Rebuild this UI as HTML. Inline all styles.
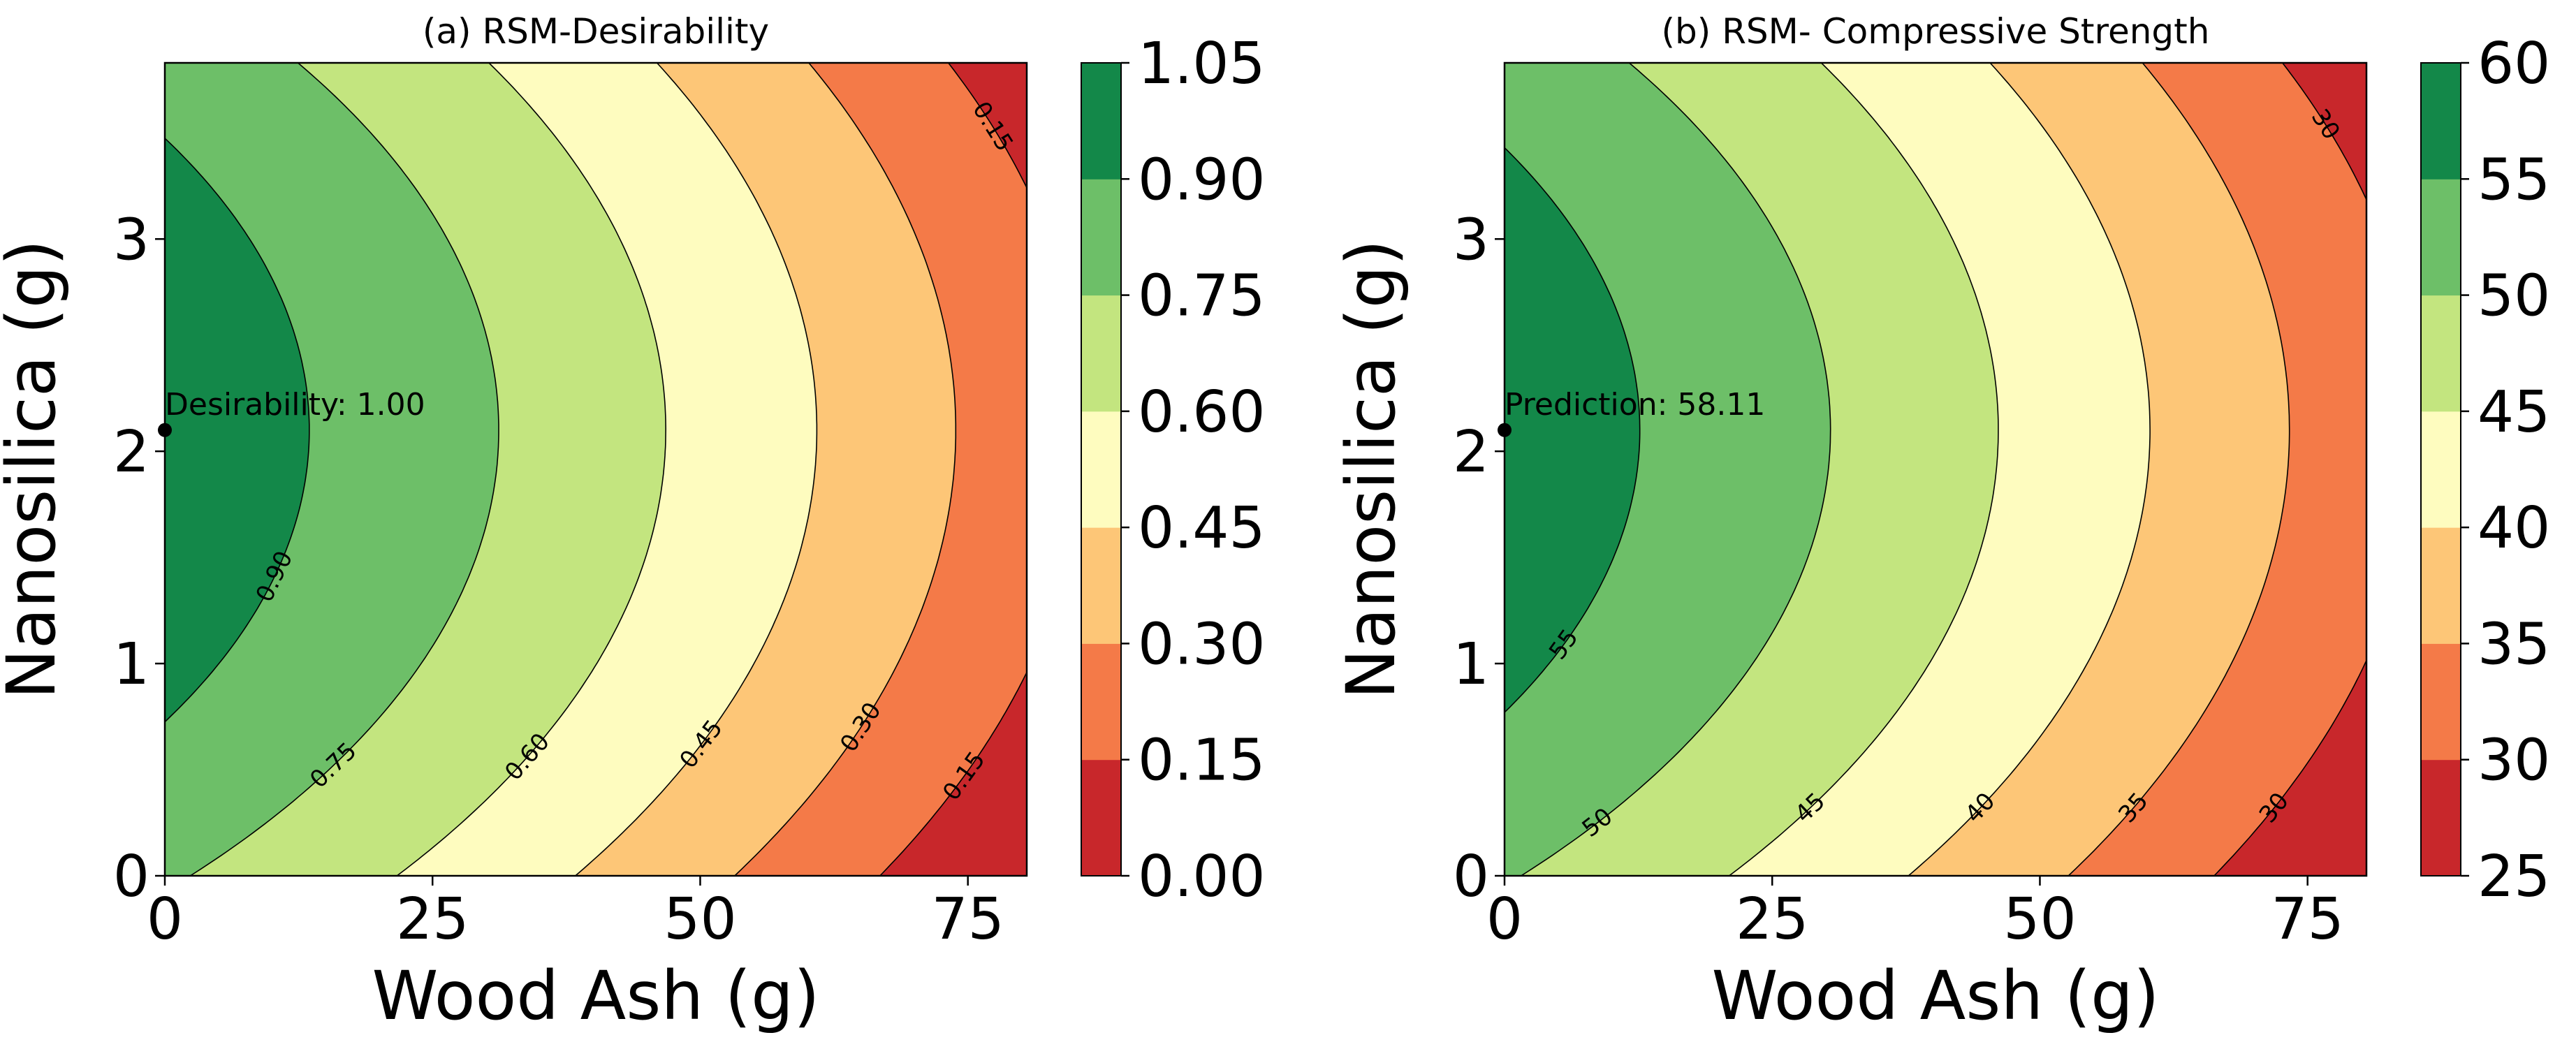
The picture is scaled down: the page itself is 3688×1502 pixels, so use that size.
<!DOCTYPE html>
<html><head><meta charset="utf-8"><style>
html,body{margin:0;padding:0;background:#fff}
svg{display:block;font-family:"DejaVu Sans","Liberation Sans",sans-serif}
</style></head><body>
<svg id="fig" width="3688" height="1502" viewBox="0 0 3688 1502" xmlns="http://www.w3.org/2000/svg"></svg>
<script>
// ---- data ----
const xTicks = [0, 25, 50, 75];
const yTicks = [0, 1, 2, 3];
const bandColors = ["#c8272b", "#f47a48", "#fdc677", "#fefcbf", "#c3e57f", "#6dbf68", "#138849"];
const desLevels = [0.00, 0.15, 0.30, 0.45, 0.60, 0.75, 0.90, 1.05];
const desTickLabels = ["0.00","0.15","0.30","0.45","0.60","0.75","0.90","1.05"];
const desModel = [1.0, 0.00695, 0.0000342, 0.0529, 2.1]; // peak, linear x, quad x, quad y, y-center
const desLabelYs = [[0.15,0.47],[0.15,3.53],[0.30,0.70],[0.45,0.62],[0.60,0.56],[0.75,0.52],[0.90,1.41]];
const strLevels = [25, 30, 35, 40, 45, 50, 55, 60];
const strTickLabels = ["25","30","35","40","45","50","55","60"];
const strModel = [58.11, 0.2317, 0.00114, 1.757, 2.1];
const strLabelYs = [[30,0.32],[30,3.54],[35,0.32],[40,0.32],[45,0.32],[50,0.25],[55,1.09]];
const optPoint = [0, 2.1];

const NS = "http://www.w3.org/2000/svg";
const svg = document.getElementById("fig");
function mk(tag, attrs, parent){const e=document.createElementNS(NS,tag);for(const k in attrs)e.setAttribute(k,attrs[k]);(parent||svg).appendChild(e);return e;}

function panel(opts){
  const {L,R,T,B,xmax,ymax,model,levels,tickLabels,labelYs,title,annot,cbL,fmt,id}=opts;
  const sx=v=>L+(v/xmax)*(R-L), sy=v=>B-(v/ymax)*(B-T);
  const [p0,b,a,c,yc]=model;
  const xOf=(lev,y)=>{const Rr=p0-lev-c*(y-yc)*(y-yc);const disc=b*b+4*a*Rr;if(disc<0)return -10;return (-b+Math.sqrt(disc))/(2*a);};
  const g=mk("g",{});
  
  
  const cp=mk("clipPath",{id:id+"clip"},g);mk("rect",{x:L,y:T,width:R-L,height:B-T},cp);
  const area=mk("g",{"clip-path":"url(#"+id+"clip)"},g);
  const base=mk("rect",{x:L,y:T,width:R-L,height:B-T,fill:bandColors[0]},area);
  
  
  const N=200;
  for(let i=1;i<levels.length-1;i++){
    const lev=levels[i];let pts=[];
    for(let k=0;k<=N;k++){const y=-0.2+(ymax+0.4)*k/N;const x=Math.max(xOf(lev,y),-5);pts.push(sx(x).toFixed(1)+","+sy(y).toFixed(1));}
    const poly=mk("polygon",{points:sx(-5)+","+sy(-0.2)+" "+pts.join(" ")+" "+sx(-5)+","+sy(ymax+0.2),fill:bandColors[i]},area);
    
    
    const pl=mk("polyline",{points:pts.join(" "),fill:"none",stroke:"#000","stroke-width":1.6},area);
    
    
  }
  labelYs.forEach(([lev,y])=>{
    const x=xOf(lev,y),x2=xOf(lev,y+0.02);
    const ang=Math.atan2(sy(y+0.02)-sy(y),sx(x2)-sx(x))*180/Math.PI;
    let rot=ang; if(rot>90)rot-=180; if(rot<-90)rot+=180;
    const t=mk("text",{x:sx(x),y:sy(y),"font-size":34,"text-anchor":"middle","dominant-baseline":"central",transform:`rotate(${rot.toFixed(1)} ${sx(x).toFixed(1)} ${sy(y).toFixed(1)})`},area);
    t.textContent=fmt(lev);
    
    
  });
  const fr=mk("rect",{x:L,y:T,width:R-L,height:B-T,fill:"none",stroke:"#000","stroke-width":2.5},g);
  
  
  const dot=mk("circle",{cx:sx(optPoint[0]),cy:sy(optPoint[1]),r:10,fill:"#000"},g);
  
  
  const an=mk("text",{x:sx(optPoint[0]),y:sy(optPoint[1])-22,"font-size":44},g);an.textContent=annot;
  
  
  xTicks.forEach(v=>{const X=sx(v);mk("line",{x1:X,x2:X,y1:B,y2:B+14,stroke:"#000","stroke-width":2.5},g);
    const t=mk("text",{x:X,y:B+90,"font-size":82,"text-anchor":"middle"},g);t.textContent=v;
    
    });
  yTicks.forEach(v=>{const Y=sy(v);mk("line",{x1:L-14,x2:L,y1:Y,y2:Y,stroke:"#000","stroke-width":2.5},g);
    const t=mk("text",{x:L-22,y:Y+29,"font-size":82,"text-anchor":"end"},g);t.textContent=v;
    
    });
  const xl=mk("text",{x:(L+R)/2,y:1459,"font-size":96,"text-anchor":"middle"},g);xl.textContent="Wood Ash (g)";
  
  
  const ylx=L-158;
  const yl=mk("text",{x:ylx,y:(T+B)/2,"font-size":96,"text-anchor":"middle",transform:`rotate(-90 ${ylx} ${(T+B)/2})`},g);yl.textContent="Nanosilica (g)";
  
  
  const tt=mk("text",{x:(L+R)/2,y:62,"font-size":50,"text-anchor":"middle"},g);tt.textContent=title;
  
  
  const cbW=57, n=levels.length-1, cy=i=>B-(i/n)*(B-T);
  for(let i=0;i<n;i++){const r=mk("rect",{x:cbL,y:cy(i+1),width:cbW,height:cy(i)-cy(i+1)+0.5,fill:bandColors[i]},g);
    
    }
  mk("rect",{x:cbL,y:T,width:cbW,height:B-T,fill:"none",stroke:"#000","stroke-width":2},g);
  tickLabels.forEach((lab,i)=>{const Y=cy(i);mk("line",{x1:cbL+cbW,x2:cbL+cbW+12,y1:Y,y2:Y,stroke:"#000","stroke-width":2.5},g);
    const t=mk("text",{x:cbL+cbW+24,y:Y+29,"font-size":82},g);t.textContent=lab;
    
    });
}
panel({L:236,R:1470,T:90,B:1254,xmax:80.5,ymax:3.83,model:desModel,levels:desLevels,tickLabels:desTickLabels,labelYs:desLabelYs,
  title:"(a) RSM-Desirability",annot:"Desirability: 1.00",cbL:1548,fmt:v=>v.toFixed(2),id:"a"});
panel({L:2154,R:3388,T:90,B:1254,xmax:80.5,ymax:3.83,model:strModel,levels:strLevels,tickLabels:strTickLabels,labelYs:strLabelYs,
  title:"(b) RSM- Compressive Strength",annot:"Prediction: 58.11",cbL:3466,fmt:v=>String(v),id:"b"});
</script>
</body></html>
